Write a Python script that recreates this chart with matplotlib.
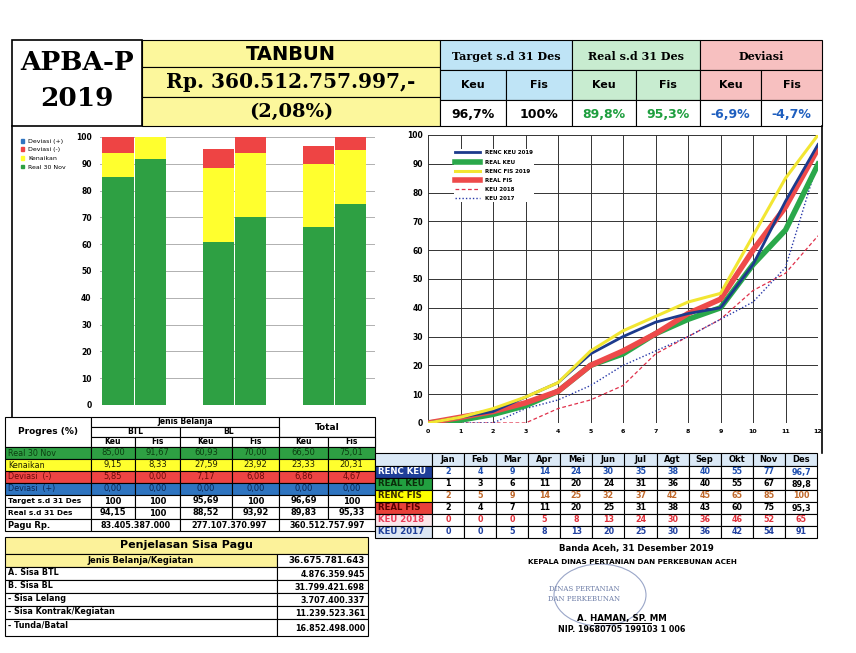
import matplotlib
matplotlib.use("Agg")
import matplotlib.pyplot as plt
from matplotlib.patches import Rectangle, Ellipse, Patch
import numpy as np

W, H = 856, 653

# ---- header data
title_unit = "TANBUN"
pagu_total = "Rp. 360.512.757.997,-"
pagu_pct = "(2,08%)"
head_groups = ["Target s.d 31 Des", "Real s.d 31 Des", "Deviasi"]
head_values = ["96,7%", "100%", "89,8%", "95,3%", "-6,9%", "-4,7%"]

# ---- progress per jenis belanja (Keu, Fis for BTL, BL, Total)
jenis = ["BTL", "BL", "Total"]
real_nov = [85.00, 91.67, 60.93, 70.00, 66.50, 75.01]
kenaikan = [9.15, 8.33, 27.59, 23.92, 23.33, 20.31]
dev_min = [5.85, 0.00, 7.17, 6.08, 6.86, 4.67]
dev_plus = [0.00, 0.00, 0.00, 0.00, 0.00, 0.00]
target_des = [100, 100, 95.69, 100, 96.69, 100]
real_des = [94.15, 100, 88.52, 93.92, 89.83, 95.33]
pagu_rp = ["83.405.387.000", "277.107.370.997", "360.512.757.997"]

# ---- monthly curve data
months = ["Jan", "Feb", "Mar", "Apr", "Mei", "Jun", "Jul", "Agt", "Sep", "Okt", "Nov", "Des"]
renc_keu = [2, 4, 9, 14, 24, 30, 35, 38, 40, 55, 77, 96.7]
real_keu = [1, 3, 6, 11, 20, 24, 31, 36, 40, 55, 67, 89.8]
renc_fis = [2, 5, 9, 14, 25, 32, 37, 42, 45, 65, 85, 100]
real_fis = [2, 4, 7, 11, 20, 25, 31, 38, 43, 60, 75, 95.3]
keu_2018 = [0, 0, 0, 5, 8, 13, 24, 30, 36, 46, 52, 65]
keu_2017 = [0, 0, 5, 8, 13, 20, 25, 30, 36, 42, 54, 91]

# ---- sisa pagu
sisa_labels = ["A. Sisa BTL", "B. Sisa BL", "- Sisa Lelang", "- Sisa Kontrak/Kegiatan", "- Tunda/Batal"]
sisa_values = ["4.876.359.945", "31.799.421.698", "3.707.400.337", "11.239.523.361", "16.852.498.000"]
sisa_total = "36.675.781.643"

GREEN = "#2ea043"
YELLOW = "#ffff2e"
RED = "#ee4444"
BLUE = "#2e74c0"

fig = plt.figure(figsize=(W / 100, H / 100), dpi=100)
bg = fig.add_axes([0, 0, 1, 1])
bg.set_xlim(0, W)
bg.set_ylim(H, 0)
bg.axis("off")


def add_px(x0, y0, x1, y1):
    return fig.add_axes([x0 / W, 1 - y1 / H, (x1 - x0) / W, (y1 - y0) / H])


def box(x0, y0, x1, y1, fc="white", lw=0.8):
    bg.add_patch(Rectangle((x0, y0), x1 - x0, y1 - y0, facecolor=fc, edgecolor="black", lw=lw))


def txt(x, y, s, size=6.5, color="black", weight="bold", ha="center", family="DejaVu Sans", **kw):
    bg.text(x, y, s, fontsize=size, color=color, fontweight=weight, ha=ha, va="center",
            family=family, **kw)


def fmt(v, always_dec=True):
    if not always_dec and float(v).is_integer():
        return "%d" % v
    return ("%.2f" % v).replace(".", ",")


def fmt1(v):
    if float(v).is_integer():
        return "%d" % v
    return ("%.1f" % v).replace(".", ",")


# ================= header =================
box(12, 40, 142, 126, lw=1.2)
txt(77, 62, "APBA-P", size=19, family="DejaVu Serif", weight="heavy")
txt(77, 99, "2019", size=19, family="DejaVu Serif", weight="heavy")
box(142, 40, 440, 67, fc="#fcf79c")
box(142, 67, 440, 97, fc="#fcf79c")
box(142, 97, 440, 126, fc="#fcf79c")
txt(291, 54, title_unit, size=14)
txt(291, 82, pagu_total, size=14.5, family="DejaVu Serif")
txt(291, 112, pagu_pct, size=14, family="DejaVu Serif")

hx = [440, 572, 700, 822]
hfill = ["#bfe4f6", "#c8ecd0", "#f7c0c0"]
vcol = ["black", "black", "#1e9e3e", "#1e9e3e", "#1f5fbf", "#1f5fbf"]
for g in range(3):
    x0, x1 = hx[g], hx[g + 1]
    xm = (x0 + x1) / 2
    box(x0, 40, x1, 70, fc=hfill[g])
    txt(xm, 56, head_groups[g], size=8, family="DejaVu Serif")
    for k, lab in enumerate(["Keu", "Fis"]):
        a = x0 if k == 0 else xm
        b = xm if k == 0 else x1
        box(a, 70, b, 100, fc=hfill[g])
        txt((a + b) / 2, 85, lab, size=8)
        box(a, 100, b, 126)
        txt((a + b) / 2, 114, head_values[g * 2 + k], size=9, color=vcol[g * 2 + k])

# frame around charts
bg.plot([12, 12], [126, 417], color="black", lw=1.2)
bg.plot([822, 822], [126, 453], color="black", lw=1.2)

# ================= bar chart =================
ax_b = add_px(100, 137, 375, 405)
xb = []
for i in range(3):
    xb += [i - 0.16, i + 0.16]
xb = np.array(xb)
bw = 0.31
b1 = np.array(real_nov)
b2 = b1 + np.array(kenaikan)
b3 = b2 + np.array(dev_min)
ax_b.bar(xb, real_nov, width=bw, color=GREEN, zorder=3)
ax_b.bar(xb, kenaikan, width=bw, bottom=b1, color=YELLOW, zorder=3)
ax_b.bar(xb, dev_min, width=bw, bottom=b2, color=RED, zorder=3)
ax_b.bar(xb, dev_plus, width=bw, bottom=b3, color=BLUE, zorder=3)
ax_b.set_xlim(-0.34, 2.41)
ax_b.set_ylim(0, 100)
ax_b.set_yticks(range(0, 101, 10))
ax_b.set_xticks([])
ax_b.tick_params(axis="y", length=0, labelsize=5.5, pad=6)
for t in ax_b.get_yticklabels():
    t.set_fontweight("bold")
ax_b.grid(axis="y", color="#b0b0b0", lw=0.7, zorder=0)
for s in ax_b.spines.values():
    s.set_visible(False)
handles = [Patch(color=BLUE, label="Deviasi (+)"), Patch(color=RED, label="Deviasi (-)"),
           Patch(color=YELLOW, label="Kenaikan"), Patch(color=GREEN, label="Real 30 Nov")]
ax_b.legend(handles=handles, loc="upper left", bbox_to_anchor=(15 / W, 1 - 133 / H),
            bbox_transform=fig.transFigure, frameon=False, fontsize=4.5,
            handlelength=0.6, handleheight=0.6, handletextpad=0.6, labelspacing=0.55)

# ================= line chart =================
ax_l = add_px(428, 135, 818, 423)
xm_ = np.arange(0, 13)
ax_l.plot(xm_, [0] + keu_2018, color="#e0304a", lw=0.9, ls=(0, (3, 2)), label="KEU 2018", zorder=3)
ax_l.plot(xm_, [0] + keu_2017, color="#2838a8", lw=1.0, ls=(0, (1, 1.5)), label="KEU 2017", zorder=3)
ax_l.plot(xm_, [0] + real_keu, color="#2aa84a", lw=4, label="REAL KEU", zorder=4)
ax_l.plot(xm_, [0] + real_fis, color="#ee4a4a", lw=4, label="REAL FIS", zorder=5)
ax_l.plot(xm_, [0] + renc_keu, color="#1c3a8c", lw=2, label="RENC KEU 2019", zorder=6)
ax_l.plot(xm_, [0] + renc_fis, color="#f2e632", lw=2.2, label="RENC FIS 2019", zorder=7)
ax_l.set_xlim(0, 12)
ax_l.set_ylim(0, 100)
ax_l.set_xticks(range(13))
ax_l.set_yticks(range(0, 101, 10))
ax_l.tick_params(length=0, labelsize=5.5)
ax_l.tick_params(axis="x", labelsize=4.5, pad=4)
for t in ax_l.get_xticklabels() + ax_l.get_yticklabels():
    t.set_fontweight("bold")
ax_l.grid(color="#333333", lw=0.7, zorder=0)
for s in ax_l.spines.values():
    s.set_visible(False)
hmap = {h.get_label(): h for h in ax_l.get_lines()}
order = ["RENC KEU 2019", "REAL KEU", "RENC FIS 2019", "REAL FIS", "KEU 2018", "KEU 2017"]
leg = ax_l.legend([hmap[k] for k in order], order, loc="upper left", bbox_to_anchor=(0.06, 0.96),
                  fontsize=4, frameon=True, facecolor="white", edgecolor="none", framealpha=1,
                  handlelength=4.5, labelspacing=0.75, borderpad=0.2)
for t in leg.get_texts():
    t.set_fontweight("bold")

# ================= left table =================
cx = [5, 91, 135, 180, 232, 279, 328, 375]
box(5, 417, 91, 447)
txt(48, 432, "Progres (%)", size=6.5)
box(91, 417, 279, 427)
txt(185, 422, "Jenis Belanja", size=5.5)
box(279, 417, 375, 437)
txt(327, 427, "Total", size=6.5)
box(91, 427, 180, 437)
txt(135, 432, "BTL", size=5.5)
box(180, 427, 279, 437)
txt(229, 432, "BL", size=5.5)
box(279, 437, 375, 447)
for c in range(6):
    box(cx[c + 1], 437, cx[c + 2], 447)
    txt((cx[c + 1] + cx[c + 2]) / 2, 442, ["Keu", "Fis"][c % 2], size=5.5)

rows = [("Real 30 Nov", real_nov, GREEN, "#0b3d10", True),
        ("Kenaikan", kenaikan, YELLOW, "#202000", True),
        ("Deviasi  (-)", dev_min, RED, "#6a0a0a", True),
        ("Deviasi  (+)", dev_plus, BLUE, "#0a2450", True),
        ("Target s.d 31 Des", target_des, "white", "black", False),
        ("Real s.d 31 Des", real_des, "white", "black", False)]
ry = 447
for lab, vals, fc, fg, dec in rows:
    wgt = "normal" if dec else "bold"
    box(5, ry, 91, ry + 12, fc=fc)
    txt(8, ry + 6, lab, size=5.8 if dec else 5.3, color=fg, weight=wgt, ha="left")
    for c in range(6):
        box(cx[c + 1], ry, cx[c + 2], ry + 12, fc=fc)
        txt((cx[c + 1] + cx[c + 2]) / 2, ry + 6, fmt(vals[c], dec), size=6,
            color=fg, weight=wgt)
    ry += 12
box(5, ry, 91, ry + 12)
txt(8, ry + 6, "Pagu Rp.", size=6, ha="left")
for g in range(3):
    box(cx[2 * g + 1], ry, cx[2 * g + 3], ry + 12)
    txt((cx[2 * g + 1] + cx[2 * g + 3]) / 2, ry + 6, pagu_rp[g], size=5.8)

# ================= right table =================
tx0, tx1 = 375, 432
mw = (817 - 432) / 12.0
box(tx0, 453, tx1, 466, fc="#dbe9f6")
for m in range(12):
    a = tx1 + m * mw
    box(a, 453, a + mw, 466, fc="#dbe9f6")
    txt(a + mw / 2, 459.5, months[m], size=6)
series_rows = [("RENC KEU", renc_keu, "#1f3f99", "white", "#1f4fb0"),
               ("REAL KEU", real_keu, "#22a040", "#0b2e0b", "black"),
               ("RENC FIS", renc_fis, "#ffff00", "#3a2a00", "#c0682a"),
               ("REAL FIS", real_fis, "#e8403a", "#5a0000", "black"),
               ("KEU 2018", keu_2018, "#fbe6ea", "#e83c5a", "#e0303a"),
               ("KEU 2017", keu_2017, "#dce6f4", "#1f3f99", "#2040a0")]
ry = 466
for lab, vals, fc, fg, vc in series_rows:
    box(tx0, ry, tx1, ry + 12, fc=fc)
    txt(tx0 + 3, ry + 6, lab, size=6.2, color=fg, ha="left")
    for m in range(12):
        a = tx1 + m * mw
        box(a, ry, a + mw, ry + 12)
        txt(a + mw / 2, ry + 6, fmt1(vals[m]), size=5.8, color=vc)
    ry += 12

# ================= sisa pagu =================
box(5, 537, 368, 554, fc="#fcf29a")
txt(186, 545.5, "Penjelasan Sisa Pagu", size=8)
box(5, 554, 277, 567, fc="#fcf29a")
txt(141, 560.5, "Jenis Belanja/Kegiatan", size=6)
box(277, 554, 368, 567)
txt(365, 560.5, sisa_total, size=6.2, ha="right")
ry = 567
for i, (lab, val) in enumerate(zip(sisa_labels, sisa_values)):
    h = 13 if i < 4 else 17
    box(5, ry, 277, ry + h)
    txt(8, ry + 5.5, lab, size=5.8, ha="left")
    box(277, ry, 368, ry + h)
    txt(365, ry + h / 2 + 1, val, size=5.8, ha="right")
    ry += h

# ================= signature =================
txt(636, 549, "Banda Aceh, 31 Desember 2019", size=6.2)
txt(632, 562, "KEPALA DINAS PERTANIAN DAN PERKEBUNAN ACEH", size=5.2)
bg.add_patch(Ellipse((600, 595), 92, 62, facecolor="none", edgecolor="#9aa6c8", lw=0.8))
txt(584, 589, "DINAS PERTANIAN", size=5, color="#6f7fa8", weight="normal", family="DejaVu Serif")
txt(584, 599, "DAN PERKEBUNAN", size=5, color="#6f7fa8", weight="normal", family="DejaVu Serif")
txt(622, 618, "A. HAMAN, SP. MM", size=6.2)
bg.plot([594, 651], [623, 623], color="black", lw=0.7)
txt(622, 630, "NIP. 19680705 199103 1 006", size=5.8)

fig.savefig("out.png", dpi=100)
